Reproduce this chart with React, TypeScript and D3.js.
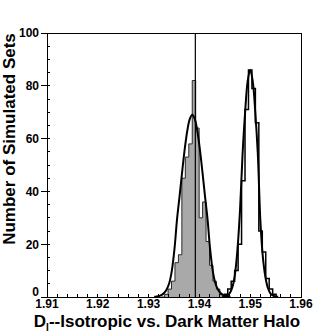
import * as d3 from 'd3'

// tick labels
const xTicks = [1.91, 1.92, 1.93, 1.94, 1.95, 1.96]
const yTicks = [0, 20, 40, 60, 80, 100]

// histograms
const binWidth = 0.00068
const isoStart = 1.93247
const isoCounts = [0, 1, 3, 6, 13, 16, 45, 53, 58, 82, 64, 30, 36, 21, 12, 6, 3, 1]
const haloStart = 1.9449
const haloCounts = [1, 3, 6, 10, 20, 44, 71, 86, 79, 66, 25, 17, 7, 3, 1]

// fitted curves
const isoFitX = [
  1.9311, 1.9316, 1.9321, 1.9326, 1.9331, 1.9336, 1.9341, 1.9346, 1.9351, 1.9356,
  1.9361, 1.9366, 1.9371, 1.9376, 1.9381, 1.9386, 1.9391, 1.9396, 1.9401, 1.9406,
  1.9411, 1.9416, 1.9421, 1.9426, 1.9431, 1.9436, 1.9441, 1.9446, 1.9451, 1.9456,
  1.9461,
]
const isoFitY = [
  0.1, 0.2, 0.4, 0.8, 1.6, 3.0, 5.5, 10.3, 18.3, 29.5,
  38.2, 47.3, 55.8, 62.8, 67.4, 69, 67.4, 62.8, 55.8, 47.3,
  38.2, 29.5, 18.3, 10.3, 5.5, 3.0, 1.6, 0.8, 0.4, 0.2,
  0.1,
]
const haloFitX = [
  1.9445, 1.945, 1.9455, 1.946, 1.9465, 1.947, 1.9475, 1.948, 1.9485, 1.949,
  1.9495, 1.95, 1.9505, 1.951, 1.9515, 1.952, 1.9525, 1.953, 1.9535, 1.954,
  1.9545, 1.955, 1.9555,
]
const haloFitY = [
  0.05, 0.2, 0.5, 1.5, 3.8, 8.6, 18.2, 33, 54.2, 70,
  81.7, 86, 81.7, 70, 54.2, 29, 15, 7.5, 3.3, 1.3,
  0.5, 0.2, 0.05,
]

// measured D for the real data
const observedD = 1.9392

const font = '"Liberation Sans", Arial, Helvetica, sans-serif'

function stepPoints(start: number, counts: number[]): [number, number][] {
  const pts: [number, number][] = [[start, 0]]
  counts.forEach((c, i) => pts.push([start + i * binWidth, c]))
  const end = start + counts.length * binWidth
  pts.push([end, counts[counts.length - 1]])
  pts.push([end, 0])
  return pts
}

export default function App() {
  const x = d3.scaleLinear().domain([1.91, 1.96]).range([47, 301])
  const y = d3.scaleLinear().domain([0, 100]).range([297, 33])

  const step = d3
    .line<[number, number]>()
    .x((d) => x(d[0]))
    .y((d) => y(d[1]))
    .curve(d3.curveStepAfter)

  const fit = d3
    .line<[number, number]>()
    .x((d) => x(d[0]))
    .y((d) => y(d[1]))
    .curve(d3.curveCatmullRom)

  const isoPath = step(stepPoints(isoStart, isoCounts)) || ''
  const haloPath = step(stepPoints(haloStart, haloCounts)) || ''
  const isoFit = fit(isoFitX.map((v, i) => [v, isoFitY[i]] as [number, number])) || ''
  const haloFit = fit(haloFitX.map((v, i) => [v, haloFitY[i]] as [number, number])) || ''

  const xMinor = x.ticks(25)
  const yMinor = y.ticks(20)

  const left = x(1.91)
  const right = x(1.96)
  const top = y(100)
  const bottom = y(0)

  return (
    <svg
      width={335}
      height={335}
      style={{ position: 'absolute', left: 0, top: 0, background: '#fff' }}
      fontFamily={font}
      fontWeight="bold"
    >
      <path d={isoPath} fill="#a9a9a9" stroke="#2a2a2a" strokeWidth={1} />
      <line
        x1={x(observedD)}
        x2={x(observedD)}
        y1={top}
        y2={bottom}
        stroke="#000"
        strokeWidth={1.2}
      />
      <path d={isoFit} fill="none" stroke="#000" strokeWidth={2} />
      <path d={haloPath} fill="none" stroke="#000" strokeWidth={1.5} />
      <path d={haloFit} fill="none" stroke="#000" strokeWidth={2} />

      <g shapeRendering="crispEdges" stroke="#000" strokeWidth={1}>
        {xMinor.map((t) => (
          <line key={'xm' + t} x1={x(t)} x2={x(t)} y1={bottom} y2={bottom - 3} />
        ))}
        {yMinor.map((t) => (
          <line key={'ym' + t} x1={left} x2={left + 3} y1={y(t)} y2={y(t)} />
        ))}
        {yTicks.map((t) => (
          <line key={'yM' + t} x1={left - 6} x2={left} y1={y(t)} y2={y(t)} />
        ))}
        <rect x={left} y={top} width={right - left} height={bottom - top} fill="none" />
      </g>

      {xTicks.map((t) => (
        <text key={'xl' + t} x={x(t)} y={308} fontSize={12} textAnchor="middle" fill="#000">
          {t.toFixed(2)}
        </text>
      ))}
      {yTicks.map((t) => (
        <text
          key={'yl' + t}
          x={39}
          y={y(t) - (t === 0 ? 5 : 0)}
          dy="0.36em"
          fontSize={12}
          textAnchor="end"
          fill="#000"
        >
          {t}
        </text>
      ))}

      <text x={167} y={327} fontSize={17} textAnchor="middle" fill="#000">
        D
        <tspan fontSize={10} dy={4}>
          I
        </tspan>
        <tspan dy={-4}>--Isotropic vs. Dark Matter Halo</tspan>
      </text>
      <text
        transform="translate(15,139) rotate(-90)"
        fontSize={17}
        textAnchor="middle"
        fill="#000"
      >
        Number of Simulated Sets
      </text>
    </svg>
  )
}
